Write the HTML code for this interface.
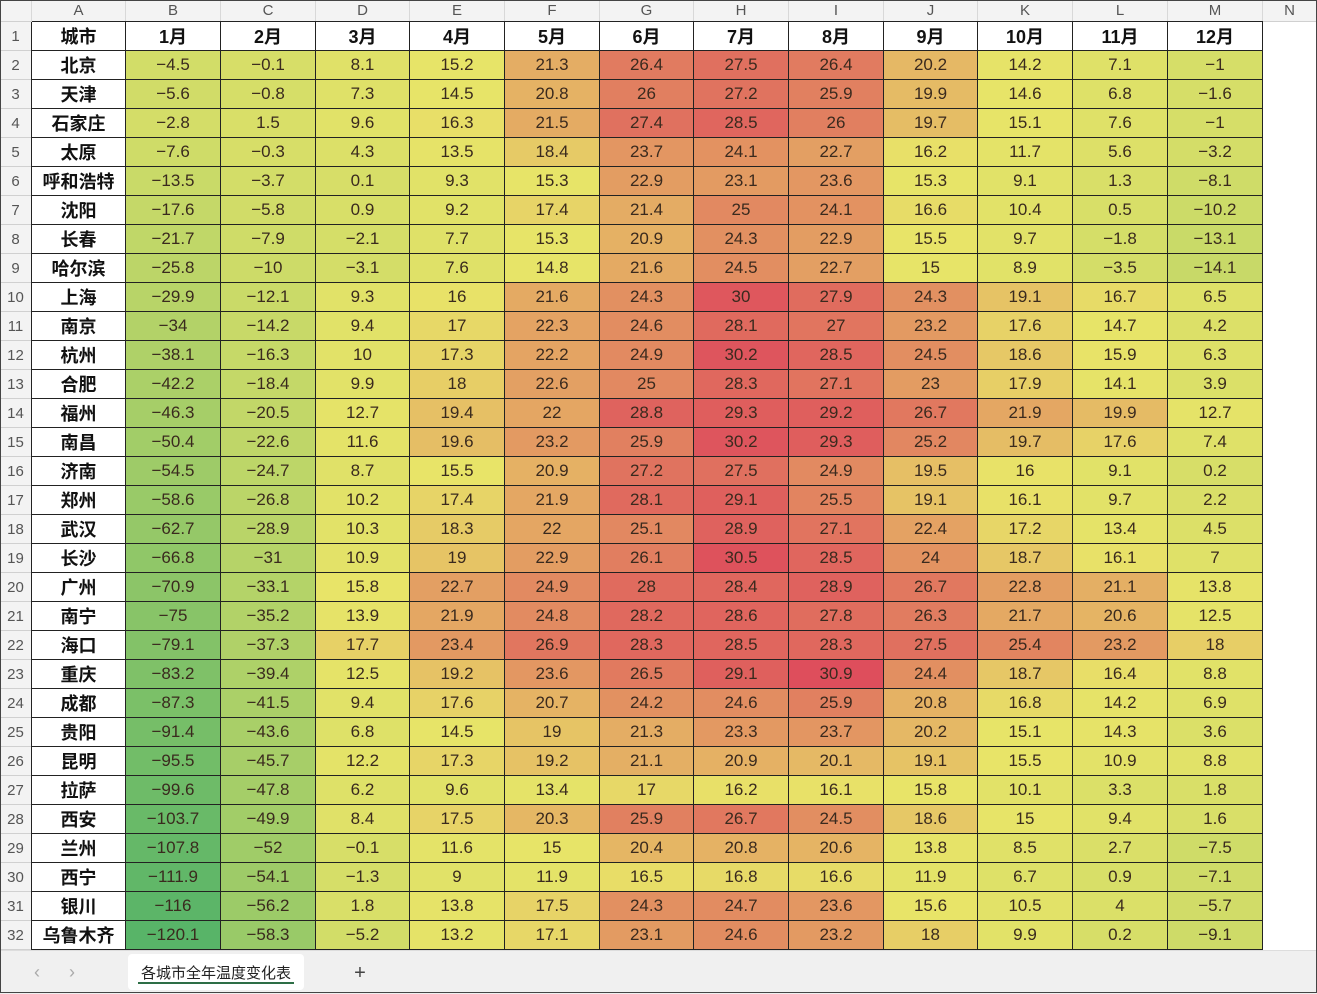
<!DOCTYPE html>
<html><head><meta charset="utf-8"><style>
body{margin:0;width:1317px;height:993px;overflow:hidden;background:#fff;font-family:"Liberation Sans","Noto Sans CJK SC",sans-serif;position:relative}
.c{position:absolute;box-sizing:border-box;display:flex;align-items:center;justify-content:center;white-space:nowrap}
.h{background:#f3f3f3;color:#555;font-size:15px;border-right:1px solid #d8d8d8;border-bottom:1px solid #d0d0d0}
.d{font-size:17px;color:#3a2a1e;border-right:1px solid #222;border-bottom:1px solid #222}
.b{font-weight:bold;font-size:18px;color:#111}
</style></head><body>
<div id="g"></div>
<div style="position:absolute;left:0;top:950px;width:1317px;height:43px;background:#f0f0f0;border-top:1px solid #ddd"></div>
<div class="c" style="left:22px;top:958px;width:30px;height:28px;color:#aaa;font-size:18px">‹</div>
<div class="c" style="left:57px;top:958px;width:30px;height:28px;color:#aaa;font-size:18px">›</div>
<div class="c" style="left:128px;top:954px;width:176px;height:36px;background:#fff;border-radius:4px;font-size:15px;color:#222">各城市全年温度变化表</div>
<div style="position:absolute;left:138px;top:982px;width:156px;height:2px;background:#2d6e46"></div>
<div class="c" style="left:345px;top:958px;width:30px;height:30px;font-size:20px;color:#444">+</div>
<div style="position:absolute;left:0;top:0;width:1315px;height:991px;border:1px solid #444;pointer-events:none"></div>
<script>
var cities=["北京","天津","石家庄","太原","呼和浩特","沈阳","长春","哈尔滨","上海","南京","杭州","合肥","福州","南昌","济南","郑州","武汉","长沙","广州","南宁","海口","重庆","成都","贵阳","昆明","拉萨","西安","兰州","西宁","银川","乌鲁木齐"];
var D=`-4.5 -0.1 8.1 15.2 21.3 26.4 27.5 26.4 20.2 14.2 7.1 -1
-5.6 -0.8 7.3 14.5 20.8 26 27.2 25.9 19.9 14.6 6.8 -1.6
-2.8 1.5 9.6 16.3 21.5 27.4 28.5 26 19.7 15.1 7.6 -1
-7.6 -0.3 4.3 13.5 18.4 23.7 24.1 22.7 16.2 11.7 5.6 -3.2
-13.5 -3.7 0.1 9.3 15.3 22.9 23.1 23.6 15.3 9.1 1.3 -8.1
-17.6 -5.8 0.9 9.2 17.4 21.4 25 24.1 16.6 10.4 0.5 -10.2
-21.7 -7.9 -2.1 7.7 15.3 20.9 24.3 22.9 15.5 9.7 -1.8 -13.1
-25.8 -10 -3.1 7.6 14.8 21.6 24.5 22.7 15 8.9 -3.5 -14.1
-29.9 -12.1 9.3 16 21.6 24.3 30 27.9 24.3 19.1 16.7 6.5
-34 -14.2 9.4 17 22.3 24.6 28.1 27 23.2 17.6 14.7 4.2
-38.1 -16.3 10 17.3 22.2 24.9 30.2 28.5 24.5 18.6 15.9 6.3
-42.2 -18.4 9.9 18 22.6 25 28.3 27.1 23 17.9 14.1 3.9
-46.3 -20.5 12.7 19.4 22 28.8 29.3 29.2 26.7 21.9 19.9 12.7
-50.4 -22.6 11.6 19.6 23.2 25.9 30.2 29.3 25.2 19.7 17.6 7.4
-54.5 -24.7 8.7 15.5 20.9 27.2 27.5 24.9 19.5 16 9.1 0.2
-58.6 -26.8 10.2 17.4 21.9 28.1 29.1 25.5 19.1 16.1 9.7 2.2
-62.7 -28.9 10.3 18.3 22 25.1 28.9 27.1 22.4 17.2 13.4 4.5
-66.8 -31 10.9 19 22.9 26.1 30.5 28.5 24 18.7 16.1 7
-70.9 -33.1 15.8 22.7 24.9 28 28.4 28.9 26.7 22.8 21.1 13.8
-75 -35.2 13.9 21.9 24.8 28.2 28.6 27.8 26.3 21.7 20.6 12.5
-79.1 -37.3 17.7 23.4 26.9 28.3 28.5 28.3 27.5 25.4 23.2 18
-83.2 -39.4 12.5 19.2 23.6 26.5 29.1 30.9 24.4 18.7 16.4 8.8
-87.3 -41.5 9.4 17.6 20.7 24.2 24.6 25.9 20.8 16.8 14.2 6.9
-91.4 -43.6 6.8 14.5 19 21.3 23.3 23.7 20.2 15.1 14.3 3.6
-95.5 -45.7 12.2 17.3 19.2 21.1 20.9 20.1 19.1 15.5 10.9 8.8
-99.6 -47.8 6.2 9.6 13.4 17 16.2 16.1 15.8 10.1 3.3 1.8
-103.7 -49.9 8.4 17.5 20.3 25.9 26.7 24.5 18.6 15 9.4 1.6
-107.8 -52 -0.1 11.6 15 20.4 20.8 20.6 13.8 8.5 2.7 -7.5
-111.9 -54.1 -1.3 9 11.9 16.5 16.8 16.6 11.9 6.7 0.9 -7.1
-116 -56.2 1.8 13.8 17.5 24.3 24.7 23.6 15.6 10.5 4 -5.7
-120.1 -58.3 -5.2 13.2 17.1 23.1 24.6 23.2 18 9.9 0.2 -9.1`.split("\n").map(r=>r.trim().split(" "));
var xs=[0,32,126,221,316,410,505,600,694,789,884,978,1073,1168,1263,1317];
var ys=[0,22];for(var i=1;i<=32;i++)ys.push(22+29*i);
var all=[];D.forEach(r=>r.forEach(v=>all.push(+v)));all.sort((a,b)=>a-b);
var mn=all[0],mx=all[all.length-1],md=(all[all.length/2-1]+all[all.length/2])/2;
function lerp(a,b,t){return a.map((x,i)=>Math.round(x+(b[i]-x)*t));}
var G=[88,180,104],Y=[232,228,104],R=[222,78,92];
function col(v){var c=v<=md?lerp(G,Y,(v-mn)/(md-mn)):lerp(Y,R,(v-md)/(mx-md));return "rgb("+c+")";}
var h="",L="ABCDEFGHIJKLMN";
function cell(x0,x1,y0,y1,cls,txt,bg){h+='<div class="c '+cls+'" style="left:'+x0+'px;top:'+y0+'px;width:'+(x1-x0)+'px;height:'+(y1-y0)+'px;'+(bg?'background:'+bg:'')+'">'+txt+'</div>';}
cell(0,32,0,22,"h","");
for(var c=0;c<14;c++)cell(xs[c+1],xs[c+2],0,22,"h",L[c]);
for(var r=1;r<=32;r++)cell(0,32,ys[r],ys[r+1],"h",r);
var hd=["城市"];for(var m=1;m<=12;m++)hd.push(m+"月");
for(var c=0;c<13;c++)cell(xs[c+1],xs[c+2],ys[1],ys[2],"d b",hd[c]);
for(var r=0;r<31;r++){cell(xs[1],xs[2],ys[r+2],ys[r+3],"d b",cities[r]);
for(var c=0;c<12;c++){var v=D[r][c];cell(xs[c+2],xs[c+3],ys[r+2],ys[r+3],"d",v.replace("-","−"),col(+v));}}
h+='<div style="position:absolute;left:32px;top:50px;width:1231px;height:1px;background:#222"></div>';
h+='<div style="position:absolute;left:31px;top:22px;width:1px;height:928px;background:#222"></div>';
h+='<div style="position:absolute;left:32px;top:21px;width:1231px;height:1px;background:#222"></div>';
document.getElementById("g").innerHTML=h;
</script>
</body></html>
